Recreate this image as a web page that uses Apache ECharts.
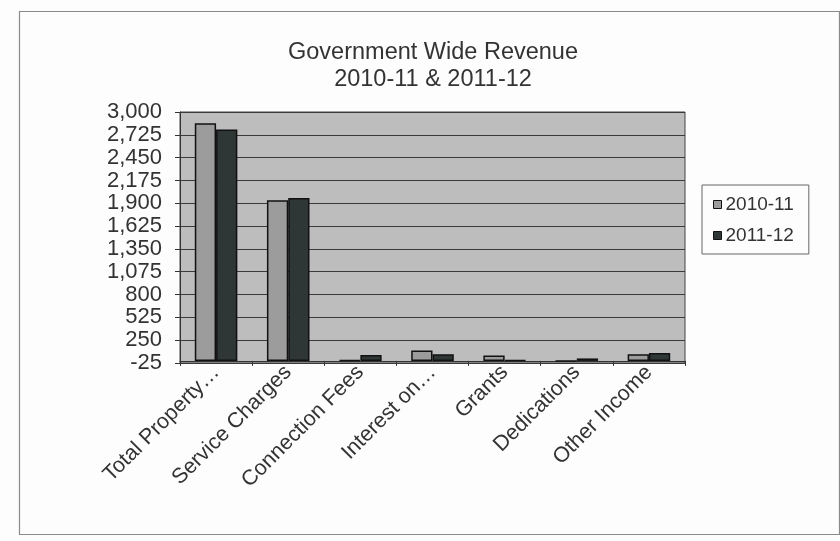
<!DOCTYPE html>
<html>
<head>
<meta charset="utf-8">
<script src="https://cdn.jsdelivr.net/npm/echarts@6/dist/echarts.min.js"></script>
<style>html,body{margin:0;padding:0;background:#fdfdfd;}#c{width:840px;height:541px;}</style>
</head>
<body>
<div id="c"></div>
<script>
const categories = ['Total Property…', 'Service Charges', 'Connection Fees', 'Interest on…', 'Grants', 'Dedications', 'Other Income'];
const seriesNames = ['2010-11', '2011-12'];
const values2010 = [2865, 1935, 10, 125, 65, 0, 80];
const values2011 = [2790, 1965, 70, 80, 8, 30, 95];
const yTicks = [-25, 250, 525, 800, 1075, 1350, 1625, 1900, 2175, 2450, 2725, 3000];

const chart = echarts.init(document.getElementById('c'), null, {renderer: 'canvas'});
const font = 'Liberation Sans, Arial, sans-serif';
chart.setOption({
  backgroundColor: '#fdfdfd',
  animation: false,
  graphic: [{
    type: 'rect', left: 17, top: 9, shape: {width: 820, height: 523},
    style: {fill: 'none', stroke: '#8a8a8a', lineWidth: 1.2}, z: -10
  }],
  title: {
    text: 'Government Wide Revenue\n2010-11 & 2011-12',
    left: 428, top: 34, textAlign: 'center',
    textStyle: {fontFamily: font, fontSize: 23.5, fontWeight: 'normal', color: '#333', lineHeight: 27}
  },
  legend: {
    orient: 'vertical', left: 702, top: 185, width: 110,
    padding: [10, 15, 9, 11], itemGap: 12,
    itemWidth: 8, itemHeight: 8,
    borderColor: '#666', borderWidth: 1,
    icon: 'rect',
    textStyle: {fontFamily: font, fontSize: 19, color: '#333', padding: [0, 0, 0, -1]},
    itemStyle: {borderColor: '#111', borderWidth: 1},
    data: seriesNames
  },
  grid: {left: 180, top: 112, right: 155, bottom: 178, show: true, backgroundColor: '#bdbdbd', borderColor: '#444', borderWidth: 1},
  xAxis: {
    type: 'category', data: categories,
    axisLine: {lineStyle: {color: '#333', width: 1}},
    axisTick: {show: true, alignWithLabel: false, length: 5, lineStyle: {color: '#333'}},
    axisLabel: {rotate: 45, fontFamily: font, fontSize: 21.5, color: '#333', margin: 6, interval: 0}
  },
  yAxis: {
    type: 'value', min: -25, max: 3000,
    axisLine: {show: true, lineStyle: {color: '#333', width: 1}},
    axisTick: {show: true, length: 5, customValues: yTicks, lineStyle: {color: '#333'}},
    axisLabel: {customValues: yTicks, fontFamily: font, fontSize: 22, color: '#333', margin: 18,
      formatter: v => v.toLocaleString('en-US')},
    splitLine: {show: true, lineStyle: {color: '#3a3a3a', width: 1}}
  },
  series: [
    {name: seriesNames[0], type: 'bar', data: values2010, barGap: 0, barCategoryGap: '41%',
      itemStyle: {color: '#9c9c9c', borderColor: '#111', borderWidth: 1.5}},
    {name: seriesNames[1], type: 'bar', data: values2011, barGap: 0, barCategoryGap: '41%',
      itemStyle: {color: '#2e3636', borderColor: '#111', borderWidth: 1.5}}
  ]
});
</script>
</body>
</html>
